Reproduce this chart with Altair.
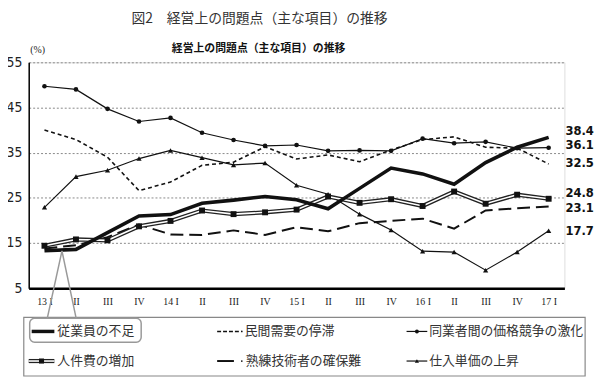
import json
import altair as alt
import pandas as pd

# ---------------- data ----------------
quarters = [f"q{i:02d}" for i in range(17)]
tick_labels = ["13 I", "II", "III", "IV", "14 I", "II", "III", "IV",
               "15 I", "II", "III", "IV", "16 I", "II", "III", "IV", "17 I"]

series_names = ["従業員の不足", "民間需要の停滞", "同業者間の価格競争の激化",
                "人件費の増加", "熟練技術者の確保難", "仕入単価の上昇"]

shortage = [13.3, 13.6, 17.3, 21.0, 21.3, 23.8, 24.5, 25.3, 24.6, 22.6, 27.1, 31.6, 30.3, 28.0, 32.8, 36.2, 38.4]
demand = [40.0, 37.9, 34.0, 26.6, 28.5, 32.2, 32.9, 36.3, 33.6, 34.5, 33.0, 35.6, 37.9, 38.5, 36.2, 36.0, 32.5]
competition = [49.7, 49.0, 44.7, 41.9, 42.7, 39.4, 37.8, 36.5, 36.7, 35.4, 35.5, 35.4, 38.1, 37.1, 37.4, 36.0, 36.1]
labor_cost = [14.4, 15.8, 15.6, 18.7, 19.9, 22.2, 21.4, 21.8, 22.4, 25.3, 23.9, 24.7, 23.2, 26.4, 23.7, 25.7, 24.8]
skilled = [13.8, 14.5, 16.3, 19.1, 16.9, 16.8, 17.8, 16.8, 18.5, 17.6, 19.4, 19.9, 20.4, 18.2, 22.2, 22.7, 23.1]
purchase = [22.9, 29.7, 31.1, 33.7, 35.5, 33.9, 32.3, 32.7, 27.8, 25.8, 21.4, 17.9, 13.2, 13.0, 9.0, 13.0, 17.7]

end_labels = ["38.4", "32.5", "36.1", "24.8", "23.1", "17.7"]

y_ticks = [5, 15, 25, 35, 45, 55]

all_values = [shortage, demand, competition, labor_cost, skilled, purchase]
rows = []
for name, vals in zip(series_names, all_values):
    for q, v in zip(quarters, vals):
        rows.append({"series": name, "q": q, "value": v})
df = pd.DataFrame(rows)

last_df = pd.DataFrame({
    "series": series_names,
    "q": [quarters[-1]] * len(series_names),
    "value": [v[-1] for v in all_values],
    "label": end_labels,
})

# ---------------- chart ----------------
W, H = 543, 229
JP = "Noto Sans CJK JP"
NARROW = "Liberation Sans Narrow, DejaVu Sans Condensed, sans-serif"

label_expr = f"{json.dumps(tick_labels)}[indexof({json.dumps(quarters)}, datum.value)]"

x_enc = alt.X("q:O", sort=quarters, title=None,
              scale=alt.Scale(type="point", padding=0.5),
              axis=alt.Axis(labelExpr=label_expr, labelAngle=0, ticks=False,
                            labelFont="Liberation Serif", labelFontSize=10,
                            labelColor="#222", labelPadding=8,
                            domainColor="#000", domainWidth=2.5, grid=False))
y_enc = alt.Y("value:Q", title=None,
              scale=alt.Scale(domain=[5, 55], nice=False, zero=False),
              axis=alt.Axis(values=y_ticks, ticks=False, labelFont=NARROW,
                            labelFontSize=14, labelColor="#222", labelPadding=7,
                            domainColor="#000", domainWidth=1.5,
                            grid=True, gridColor="#888", gridDash=[2, 2],
                            gridWidth=1))

base = alt.Chart(df).encode(x=x_enc, y=y_enc)


def sel(name):
    return base.transform_filter(alt.datum.series == name)


layers = []
# 仕入単価の上昇
layers.append(sel(series_names[5]).mark_line(color="#111", strokeWidth=1.2))
layers.append(sel(series_names[5]).mark_point(shape="triangle-up", filled=True,
                                               color="#111", size=28, opacity=1))
# 同業者間の価格競争の激化
layers.append(sel(series_names[2]).mark_line(color="#111", strokeWidth=1.2))
layers.append(sel(series_names[2]).mark_point(shape="circle", filled=True,
                                               color="#111", size=22, opacity=1))
# 民間需要の停滞
layers.append(sel(series_names[1]).mark_line(color="#111", strokeWidth=1.6,
                                              strokeDash=[4, 3]))
# 熟練技術者の確保難
layers.append(sel(series_names[4]).mark_line(color="#111", strokeWidth=2,
                                              strokeDash=[13, 6]))
# 人件費の増加 (double line with squares)
layers.append(sel(series_names[3]).mark_line(color="#222", strokeWidth=4.2))
layers.append(sel(series_names[3]).mark_line(color="#fff", strokeWidth=1.6))
layers.append(sel(series_names[3]).mark_point(shape="square", filled=True,
                                               color="#111", size=36, opacity=1))
# 従業員の不足
layers.append(sel(series_names[0]).mark_line(color="#111", strokeWidth=3.6))

# end labels
end_dy = {"従業員の不足": -6.5, "民間需要の停滞": -0.5, "同業者間の価格競争の激化": -3,
          "人件費の増加": -6, "熟練技術者の確保難": 1.5, "仕入単価の上昇": 0}
for name in series_names:
    layers.append(
        alt.Chart(last_df).transform_filter(alt.datum.series == name)
        .mark_text(align="left", baseline="middle", dx=17, dy=end_dy[name],
                   font=NARROW, fontWeight="bold", fontSize=13, color="#111")
        .encode(x=x_enc, y=y_enc, text="label:N"))

one = pd.DataFrame({"a": [0]})


def txt(t, xpx, ypx, size, **kw):
    return alt.Chart(pd.DataFrame({"t": [t]})).mark_text(
        fontSize=size, baseline="middle", **kw).encode(
        x=alt.value(xpx), y=alt.value(ypx), text="t:N")


def hline(x1, x2, ypx, **kw):
    return alt.Chart(one).mark_rule(**kw).encode(
        x=alt.value(x1), x2=alt.value(x2), y=alt.value(ypx))


def seg(x1, y1, x2, y2, **kw):
    return alt.Chart(one).mark_rule(**kw).encode(
        x=alt.value(x1), x2=alt.value(x2), y=alt.value(y1), y2=alt.value(y2))


def pt(xpx, ypx, shape, size):
    return alt.Chart(one).mark_point(shape=shape, filled=True, color="#111",
                                     size=size, opacity=1).encode(
        x=alt.value(xpx), y=alt.value(ypx))


# titles (plot origin at page (29, 60.5))
layers.append(txt("図2　経営上の問題点（主な項目）の推移", 234, -43.5, 14,
                  font=JP, color="#333", align="center"))
layers.append(txt("経営上の問題点（主な項目）の推移", 233, -13.5, 11,
                  font=JP, fontWeight="bold", color="#111", align="center"))
layers.append(txt("(%)", 9, -12, 10, font="Liberation Serif", color="#222",
                  align="center"))

# legend box
layers.append(alt.Chart(one).mark_rect(fill="white", stroke="#888",
                                       strokeWidth=1.2).encode(
    x=alt.value(-5), x2=alt.value(564), y=alt.value(258.5), y2=alt.value(318)))

# callout
layers.append(seg(18.8, 259.5, 33.7, 191.2, color="#999", strokeWidth=1.5))
layers.append(seg(48.1, 259.5, 33.7, 191.2, color="#999", strokeWidth=1.5))
layers.append(alt.Chart(one).mark_rect(fill="white", stroke="#999",
                                       strokeWidth=1.5, cornerRadius=5).encode(
    x=alt.value(1), x2=alt.value(114), y=alt.value(259.5), y2=alt.value(283.8)))

r1, r2 = 272.8, 302.8
c1, c2, c3 = 3, 191, 383
# row 1
layers.append(hline(c1, c1 + 23, r1, color="#111", strokeWidth=3.5))
layers.append(txt(series_names[0], c1 + 26, r1, 13, font=JP, color="#333", align="left"))
layers.append(hline(c2, c2 + 22, r1, color="#111", strokeWidth=1.5, strokeDash=[4, 2]))
layers.append(pt(c2 + 25, r1, "circle", 3))
layers.append(txt(series_names[1], c2 + 28, r1, 13, font=JP, color="#333", align="left"))
layers.append(hline(c3, c3 + 21, r1, color="#111", strokeWidth=1.2))
layers.append(pt(c3 + 10.5, r1, "circle", 16))
layers.append(txt(series_names[2], c3 + 23, r1, 13, font=JP, color="#333", align="left"))
# row 2
layers.append(hline(c1 - 3, c1 + 23, r2, color="#222", strokeWidth=4.2))
layers.append(hline(c1 - 3, c1 + 23, r2, color="#fff", strokeWidth=1.6))
layers.append(pt(c1 + 10, r2, "square", 26))
layers.append(txt(series_names[3], c1 + 26, r2, 13, font=JP, color="#333", align="left"))
layers.append(hline(c2, c2 + 17, r2, color="#111", strokeWidth=2))
layers.append(pt(c2 + 25, r2, "circle", 3))
layers.append(txt(series_names[4], c2 + 29, r2, 13, font=JP, color="#333", align="left"))
layers.append(hline(c3, c3 + 21, r2, color="#111", strokeWidth=1.2))
layers.append(pt(c3 + 10.5, r2, "triangle-up", 18))
layers.append(txt(series_names[5], c3 + 23, r2, 13, font=JP, color="#333", align="left"))

chart = alt.layer(*layers).properties(
    width=W, height=H,
    autosize=alt.AutoSizeParams(type="none"),
    padding={"left": 21, "top": 52.5, "right": 30, "bottom": 93},
).configure_view(stroke="#444", strokeWidth=1.2).configure(background="white")

chart.save("out.html", embed_options={"renderer": "svg", "actions": False})
